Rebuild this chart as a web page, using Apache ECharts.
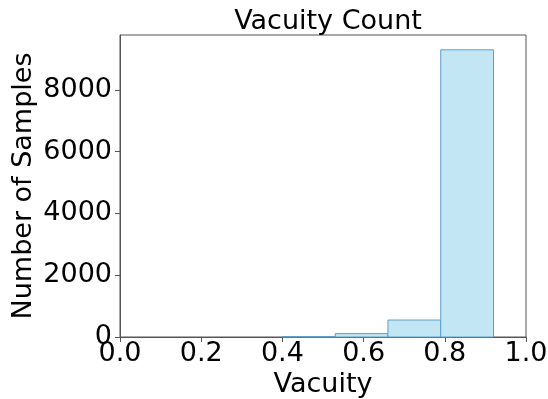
<!DOCTYPE html>
<html><head><meta charset="utf-8">
<script src="https://cdn.jsdelivr.net/npm/echarts@6/dist/echarts.min.js"></script>
<style>html,body{margin:0;padding:0;background:#fff}#c{width:548px;height:399px}</style>
</head><body><div id="c"></div>
<script>
const binStarts = [0.40, 0.53, 0.66, 0.79];
const binEnds   = [0.53, 0.66, 0.79, 0.92];
const counts    = [15, 110, 550, 9300];
const xTicks = [0, 0.2, 0.4, 0.6, 0.8, 1.0];
const yTicks = [0, 2000, 4000, 6000, 8000];

const data = binStarts.map((s, i) => [s, binEnds[i], counts[i]]);
const FONT = 'DejaVu Sans';
const FS = 27;
const chart = echarts.init(document.getElementById('c'));
chart.setOption({
  animation: false,
  backgroundColor: '#fff',
  title: { text: 'Vacuity Count', left: 323, top: 3, textAlign: 'center',
    textStyle: { fontFamily: FONT, fontSize: FS, fontWeight: 'normal', color: '#000' } },
  grid: { left: 120, right: 22, top: 35, bottom: 62, show: true, borderColor: '#555', borderWidth: 1,
    containLabel: false, outerBoundsMode: 'none' },
  xAxis: { type: 'value', min: 0, max: 1, interval: 0.2,
    name: 'Vacuity', nameLocation: 'middle', nameGap: 34, nameMoveOverlap: false,
    nameTextStyle: { fontFamily: FONT, fontSize: FS, color: '#000' },
    axisLine: { show: true, lineStyle: { color: '#555' } },
    axisTick: { show: true, length: 5, lineStyle: { color: '#555' } },
    axisLabel: { fontFamily: FONT, fontSize: FS, color: '#000', margin: 3,
      formatter: v => xTicks.some(t => Math.abs(t - v) < 1e-9) ? v.toFixed(1) : '' },
    splitLine: { show: false } },
  yAxis: { type: 'value', min: 0, max: 9780, interval: 2000,
    name: 'Number of Samples', nameLocation: 'middle', nameGap: 83, nameRotate: 90, nameMoveOverlap: false,
    nameTextStyle: { fontFamily: FONT, fontSize: FS, color: '#000' },
    axisLine: { show: true, lineStyle: { color: '#555' } },
    axisTick: { show: true, length: 5, lineStyle: { color: '#555' } },
    axisLabel: { fontFamily: FONT, fontSize: FS, color: '#000', margin: 8, showMaxLabel: false,
      formatter: v => yTicks.includes(v) ? String(v) : '' },
    splitLine: { show: false } },
  series: [{
    type: 'custom',
    data: data,
    encode: { x: [0, 1], y: 2 },
    renderItem: (params, api) => {
      const p0 = api.coord([api.value(0), 0]);
      const p1 = api.coord([api.value(1), api.value(2)]);
      return { type: 'rect',
        shape: { x: p0[0], y: p1[1], width: p1[0] - p0[0], height: p0[1] - p1[1] },
        style: { fill: '#c3e6f5', stroke: '#5f9fc8', lineWidth: 1 } };
    }
  }]
});
</script></body></html>
